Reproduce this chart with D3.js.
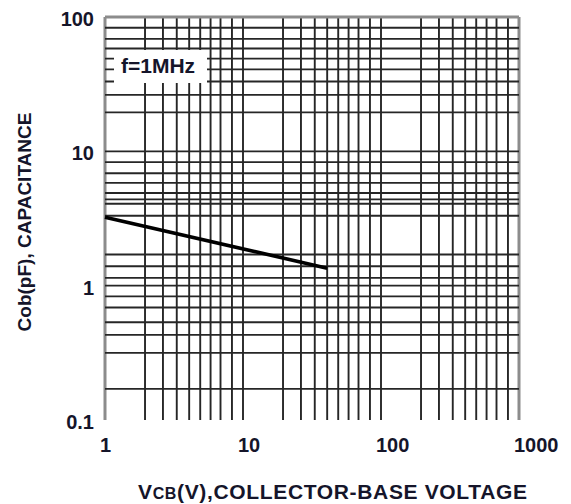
<!DOCTYPE html>
<html>
<head>
<meta charset="utf-8">
<script src="https://cdn.jsdelivr.net/npm/d3@7"></script>
<style>
  body { margin: 0; background: #fff; }
  svg { display: block; }
</style>
</head>
<body>
<div id="chart"></div>
<script>
// DATA
var xTickValues = [1, 10, 100, 1000];
var xTickLabels = ["1", "10", "100", "1000"];
var yTickValues = [0.1, 1, 10, 100];
var yTickLabels = ["0.1", "1", "10", "100"];
var xGridValues = [1, 2, 3, 4, 5, 6, 7, 8, 9, 10, 20, 30, 40, 50, 60, 70, 80, 90,
                   100, 200, 300, 400, 500, 600, 700, 800, 900, 1000];
var yGridValues = [0.18, 0.38, 0.53, 0.65, 0.8, 0.9, 1, 1.2, 1.5, 1.8, 4, 5, 5.4, 6, 7, 8, 9,
                   10, 20, 30, 40, 50, 60, 70, 80, 90, 100];
var vcb = [1, 50];
var cob = [3.9, 1.45];

// COLORS and FONTS
var fontFamily = "'Liberation Sans',Arial,sans-serif";
var textColor = "#15152a";
var gridColor = "#262626";
var edgeColor = "#8c8c8c";

var W = 571, H = 504;
var plot = {left: 105, right: 519, top: 17, bottom: 420};

// the paper's log grid is drawn unevenly inside each decade
var mantissa = d3.scaleLinear()
  .domain([1, 2, 3, 4, 5, 6, 7, 8, 9, 10])
  .range([0, 0.29, 0.42, 0.52, 0.61, 0.69, 0.765, 0.837, 0.92, 1]);

function paperLog(domain, range) {
  var dec = d3.scaleLinear()
    .domain([Math.log10(domain[0]), Math.log10(domain[1])])
    .range(range);
  return function(v) {
    var e = Math.floor(Math.log10(v) + 1e-9);
    return dec(e + mantissa(v / Math.pow(10, e)));
  };
}

var x = paperLog([1, 1000], [plot.left, plot.right]);
var y = paperLog([0.1, 100], [plot.bottom, plot.top]);

var svg = d3.select("#chart").append("svg")
  .attr("width", W)
  .attr("height", H);

var isEdge = function(v, lo, hi) { return v === lo || v === hi; };

// vertical grid
svg.append("g").selectAll("line")
  .data(xGridValues)
  .enter().append("line")
  .attr("x1", function(d) { return x(d); })
  .attr("x2", function(d) { return x(d); })
  .attr("y1", y(100))
  .attr("y2", plot.bottom)
  .attr("stroke", function(d) { return isEdge(d, 1, 1000) ? edgeColor : gridColor; })
  .attr("stroke-width", function(d) { return isEdge(d, 1, 1000) ? 3 : 1.9; });

// horizontal grid
svg.append("g").selectAll("line")
  .data(yGridValues)
  .enter().append("line")
  .attr("x1", plot.left)
  .attr("x2", plot.right)
  .attr("y1", function(d) { return y(d); })
  .attr("y2", function(d) { return y(d); })
  .attr("stroke", function(d) { return d === 100 ? edgeColor : gridColor; })
  .attr("stroke-width", function(d) { return d === 100 ? 3 : 1.9; });

// label box
svg.append("rect")
  .attr("x", 114)
  .attr("y", 50)
  .attr("width", 93)
  .attr("height", 33)
  .attr("fill", "#fff");

svg.append("text")
  .attr("x", 121)
  .attr("y", 73)
  .attr("font-family", fontFamily)
  .attr("font-weight", "bold")
  .attr("font-size", 21)
  .attr("fill", textColor)
  .text("f=1MHz");

// curve
var line = d3.line()
  .x(function(d) { return x(d[0]); })
  .y(function(d) { return y(d[1]); });

svg.append("path")
  .datum(d3.zip(vcb, cob))
  .attr("d", line)
  .attr("fill", "none")
  .attr("stroke", "#000")
  .attr("stroke-width", 3.6);

// tick labels
svg.append("g").selectAll("text")
  .data(xTickValues)
  .enter().append("text")
  .attr("x", function(d) { return x(d) - 5; })
  .attr("y", 452)
  .attr("font-family", fontFamily)
  .attr("font-weight", "bold")
  .attr("font-size", 20)
  .attr("fill", textColor)
  .text(function(d, i) { return xTickLabels[i]; });

svg.append("g").selectAll("text")
  .data(yTickValues)
  .enter().append("text")
  .attr("x", 94)
  .attr("y", function(d) { return y(d) + 9; })
  .attr("text-anchor", "end")
  .attr("font-family", fontFamily)
  .attr("font-weight", "bold")
  .attr("font-size", 20)
  .attr("fill", textColor)
  .text(function(d, i) { return yTickLabels[i]; });

// axis titles
var xt = svg.append("text")
  .attr("x", 138)
  .attr("y", 499)
  .attr("textLength", 389)
  .attr("lengthAdjust", "spacing")
  .attr("font-family", fontFamily)
  .attr("font-weight", "bold")
  .attr("font-size", 21)
  .attr("fill", textColor);
xt.append("tspan").text("V");
xt.append("tspan").attr("font-size", 16).text("CB");
xt.append("tspan").text("(V),COLLECTOR-BASE VOLTAGE");

svg.append("text")
  .attr("transform", "translate(31,222) rotate(-90)")
  .attr("text-anchor", "middle")
  .attr("font-family", fontFamily)
  .attr("font-weight", "bold")
  .attr("font-size", 19)
  .attr("fill", textColor)
  .text("Cob(pF), CAPACITANCE");
</script>
</body>
</html>
